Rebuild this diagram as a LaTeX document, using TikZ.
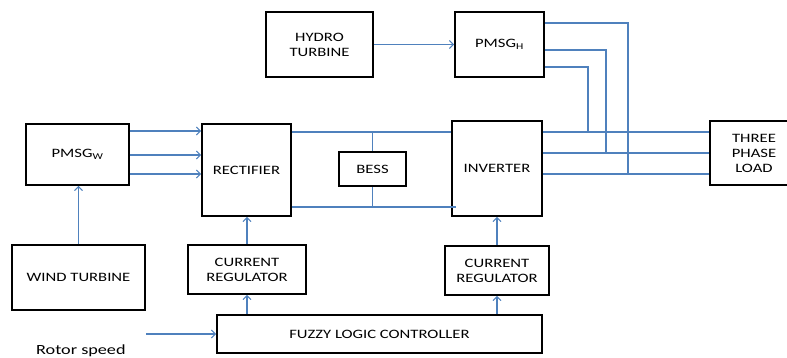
\documentclass[tikz,border=0pt]{standalone}
\usepackage{fontspec}
\setmainfont[FakeStretch=1.3]{Carlito}
\usetikzlibrary{arrows.meta}
\definecolor{lineblue}{HTML}{4F81BD}
\begin{document}
\begin{tikzpicture}[x=1pt,y=-1pt,
  box/.style={draw=black,line width=1.6pt,inner sep=0pt,align=center,
    font=\fontsize{12.8}{15}\selectfont},
  wire/.style={draw=lineblue,line width=1.1pt},
  arr/.style={wire,-{Straight Barb[length=4pt,width=8pt]}}]
\useasboundingbox (0,0) rectangle (787,358);
% blocks
\node[box,minimum width=107pt,minimum height=65pt] (hydro) at (319.5,44.5) {HYDRO\\TURBINE};
\node[box,minimum width=89pt,minimum height=65pt] (pmsgh) at (499.5,44.5) {PMSG\textsubscript{H}};
\node[box,minimum width=103pt,minimum height=61pt] (pmsgw) at (77.5,154.5) {PMSG\textsubscript{W}};
\node[box,minimum width=89pt,minimum height=92pt] (rect) at (246.5,170) {RECTIFIER};
\node[box,minimum width=67pt,minimum height=34pt] (bess) at (372.5,169) {BESS};
\node[box,minimum width=90pt,minimum height=95pt] (inv) at (497,168.5) {INVERTER};
\node[box,minimum width=88pt,minimum height=64pt] (load) at (754,153) {THREE\\PHASE\\LOAD};
\node[box,minimum width=133pt,minimum height=65pt] (wind) at (78.5,277.5) {WIND TURBINE};
\node[box,minimum width=118pt,minimum height=49pt] (cr1) at (247,269.5) {CURRENT\\REGULATOR};
\node[box,minimum width=104pt,minimum height=49pt] (cr2) at (497,270.5) {CURRENT\\REGULATOR};
\node[box,minimum width=325pt,minimum height=38pt] (flc) at (379.5,334) {FUZZY LOGIC CONTROLLER};
\node[anchor=base west,inner sep=0pt,font=\fontsize{14}{16}\selectfont] (rotor) at (36,354) {Rotor speed};
% helper levels
\coordinate (y23) at (0,23);
\coordinate (y50) at (0,50);
\coordinate (y67) at (0,67);
\coordinate (y131) at (0,131);
\coordinate (y132) at (0,132);
\coordinate (y153) at (0,153);
\coordinate (y155) at (0,155);
\coordinate (y174) at (0,174);
\coordinate (y207) at (0,207);
\coordinate (x588) at (588,0);
\coordinate (x606) at (606,0);
\coordinate (x628) at (628,0);
\coordinate (x671) at (671,0);
\coordinate (rs) at (146,334);
% connectors
\draw[arr] (hydro) -- (pmsgh);
\draw[arr] (wind.north) -- (wind.north |- pmsgw.south);
\draw[arr] (pmsgw.east |- y131) -- (rect.west |- y131);
\draw[arr] (pmsgw.east |- y155) -- (rect.west |- y155);
\draw[arr] (pmsgw.east |- y174) -- (rect.west |- y174);
\draw[wire] (rect.east |- y132) -- (inv.west |- y132);
\draw[wire] (rect.east |- y207) -- ([xshift=5pt]inv.west |- y207);
\draw[wire] (bess.north) -- (bess.north |- y132);
\draw[wire] (bess.south) -- (bess.south |- y207);
\draw[arr] (cr1.north) -- (cr1.north |- rect.south);
\draw[arr] (flc.north -| cr1) -- (cr1.south);
\draw[arr] (cr2.north) -- (cr2.north |- inv.south);
\draw[arr] (flc.north -| cr2) -- (cr2.south);
\draw[arr] (rs) -- (flc.west);
\draw[wire] (inv.east |- y132) -- (load.west |- y132);
\draw[wire] (inv.east |- y153) -- (load.west |- y153);
\draw[wire] (inv.east |- y174) -- (load.west |- y174);
\draw[wire] (pmsgh.east |- y23) -| (x628 |- y174) -- (load.west |- y174);
\draw[wire] (pmsgh.east |- y50) -| (x606 |- y153) -- (x671 |- y153);
\draw[wire] (pmsgh.east |- y67) -| (x588 |- y132);
\end{tikzpicture}
\end{document}
